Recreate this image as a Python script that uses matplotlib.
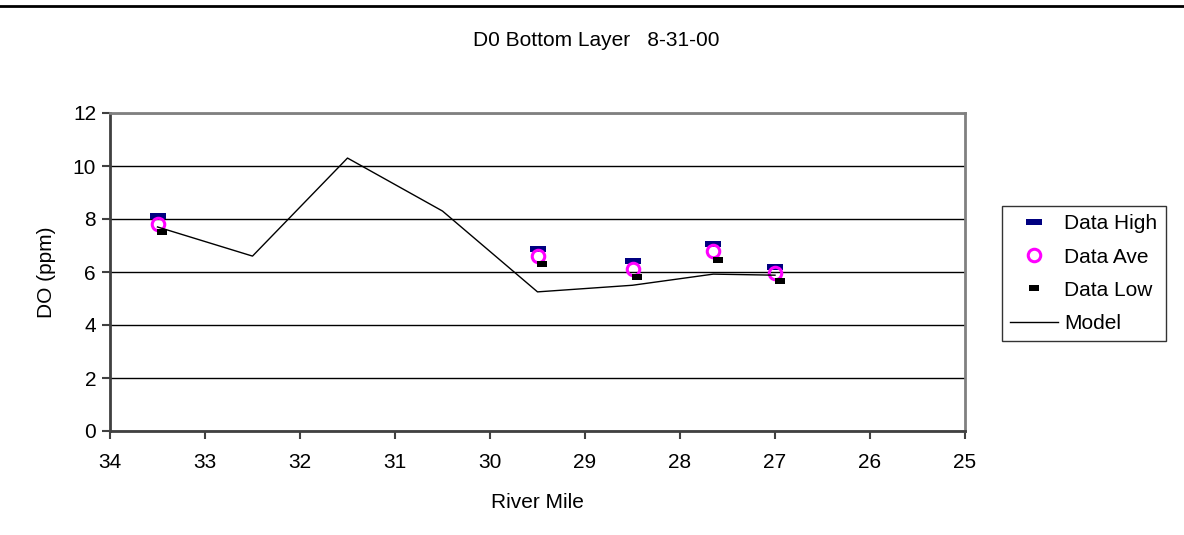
import matplotlib.pyplot as plt
from matplotlib.path import Path
from matplotlib.lines import Line2D

plt.rcParams['font.family'] = ['Liberation Sans', 'DejaVu Sans']

# data
data_x = [33.5, 29.5, 28.5, 27.65, 27.0]
low_x = [33.45, 29.45, 28.45, 27.6, 26.95]
data_high = [8.1, 6.85, 6.4, 7.05, 6.2]
data_ave = [7.8, 6.6, 6.12, 6.78, 5.95]
data_low = [7.5, 6.3, 5.8, 6.47, 5.65]

model_x = [33.5, 32.5, 31.5, 30.5, 29.5, 28.5, 27.65, 27.0]
model_y = [7.7, 6.6, 10.3, 8.3, 5.25, 5.5, 5.92, 5.88]

x_ticks = list(range(34, 24, -1))
y_ticks = [0, 2, 4, 6, 8, 10, 12]


def flat_rect(h):
    return Path([(-0.5, -h / 2), (0.5, -h / 2), (0.5, h / 2), (-0.5, h / 2), (-0.5, -h / 2)],
                [Path.MOVETO, Path.LINETO, Path.LINETO, Path.LINETO, Path.CLOSEPOLY])


fig = plt.figure(figsize=(11.84, 5.35), dpi=100)
ax = fig.add_axes([110 / 1184, 104 / 535, 855 / 1184, 318 / 535])

ax.plot(data_x, data_high, linestyle='none', marker=flat_rect(0.34), markersize=11.5,
        color='#000080', markeredgewidth=0, label='Data High')
ax.plot(data_x, data_ave, linestyle='none', marker='o', markersize=9,
        markerfacecolor='none', markeredgecolor='#ff00ff', markeredgewidth=2.2,
        label='Data Ave')
ax.plot(low_x, data_low, linestyle='none', marker=flat_rect(0.52), markersize=7.5,
        color='black', markeredgewidth=0, label='Data Low')
ax.plot(model_x, model_y, color='black', linewidth=1, label='Model')

ax.set_xlim(34, 25)
ax.set_ylim(0, 12)
ax.set_xticks(x_ticks)
ax.set_yticks(y_ticks)
ax.tick_params(labelsize=15, length=6, width=1.5, color='#404040', pad=4)
ax.tick_params(axis='x', pad=10)
ax.yaxis.grid(True, color='black', linewidth=1)
ax.set_axisbelow(True)

for side in ['left', 'bottom']:
    ax.spines[side].set_color('#404040')
    ax.spines[side].set_linewidth(2)
for side in ['top', 'right']:
    ax.spines[side].set_color('#808080')
    ax.spines[side].set_linewidth(2)

ax.set_xlabel('River Mile', fontsize=15, labelpad=15)
ax.set_ylabel('DO (ppm)', fontsize=15, labelpad=12)
fig.text(596 / 1184, 1 - 41 / 535, 'D0 Bottom Layer   8-31-00', fontsize=15,
         ha='center', va='center')

leg = ax.legend(loc='upper left', bbox_to_anchor=(1002 / 1184, 1 - 206 / 535),
                bbox_transform=fig.transFigure, borderaxespad=0, fontsize=15,
                frameon=True, fancybox=False, edgecolor='black',
                handlelength=2.3, handletextpad=0.3, labelspacing=0.68,
                borderpad=0.4)
leg.get_frame().set_linewidth(1)

fig.add_artist(Line2D([0, 1], [1 - 6 / 535, 1 - 6 / 535], color='black',
                      linewidth=2, transform=fig.transFigure))

fig.savefig('out.png', dpi=100)
